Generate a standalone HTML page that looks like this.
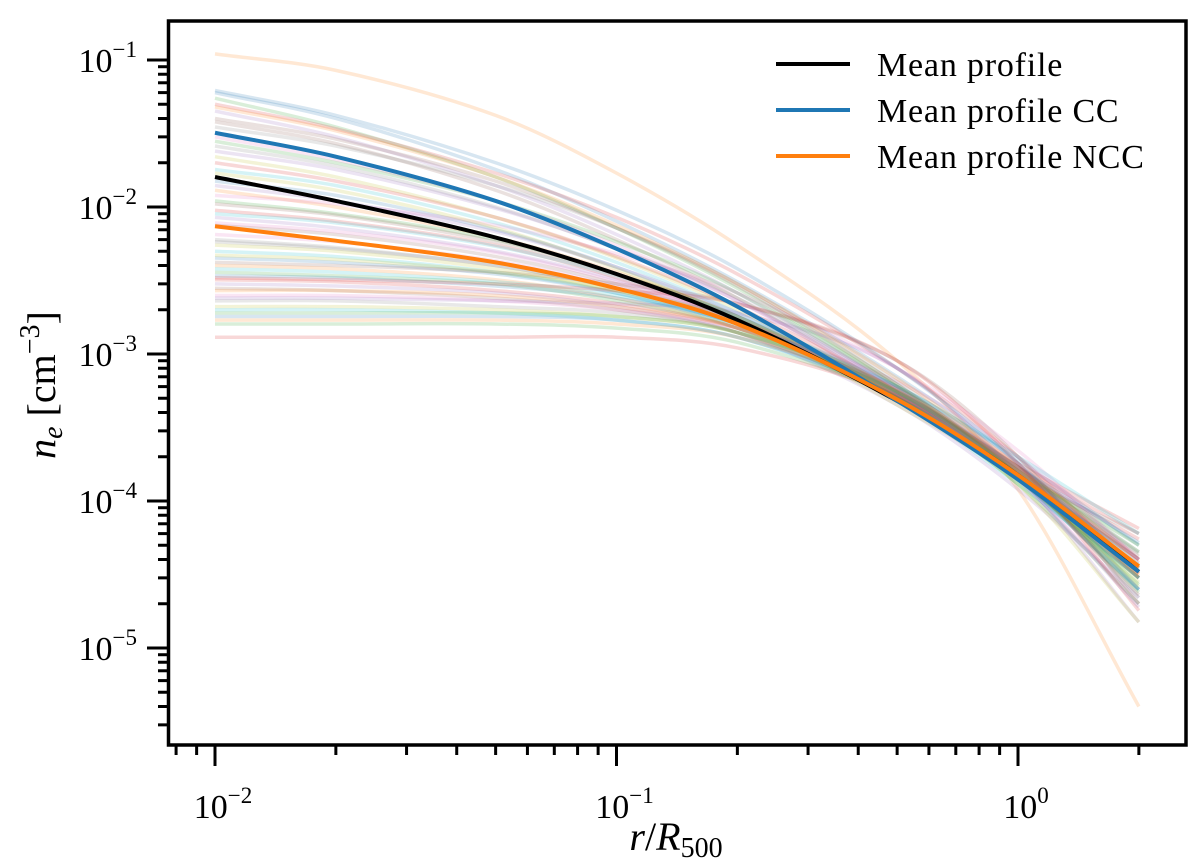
<!DOCTYPE html>
<html><head><meta charset="utf-8"><style>
body{margin:0;background:#fff}
svg{display:block}
text{font-family:"Liberation Serif",serif;fill:#000}
</style></head><body>
<svg id="chart" width="1200" height="867" viewBox="0 0 1200 867" xmlns="http://www.w3.org/2000/svg">
<g id="bg"></g>
<g id="means"></g>
<rect x="168.5" y="21" width="1017.5" height="724" fill="none" stroke="#000" stroke-width="3.5"/>
<g id="ticks"></g>
<g>
<line x1="776" y1="64" x2="850" y2="64" stroke="#000" stroke-width="4"/>
<text x="877" y="76" font-size="34" letter-spacing="0.8">Mean profile</text>
<line x1="776" y1="110" x2="850" y2="110" stroke="#1f77b4" stroke-width="4"/>
<text x="877" y="122" font-size="34" letter-spacing="0.8">Mean profile CC</text>
<line x1="776" y1="156" x2="850" y2="156" stroke="#ff7f0e" stroke-width="4"/>
<text x="877" y="168" font-size="34" letter-spacing="0.8">Mean profile NCC</text>
</g>
<text x="676" y="850" font-size="40" text-anchor="middle"><tspan font-style="italic">r</tspan>/<tspan font-style="italic">R</tspan><tspan font-size="28" dy="7">500</tspan></text>
<text transform="translate(55,385) rotate(-90)" font-size="40" text-anchor="middle"><tspan font-style="italic">n</tspan><tspan font-size="28" font-style="italic" dy="7">e</tspan><tspan dy="-7"> [cm</tspan><tspan font-size="28" dy="-16">−3</tspan><tspan dy="16">]</tspan></text>
</svg>
<script>
const rPoints=[0.01,0.02,0.05,0.1,0.2,0.5,1,2];
const meanAll=[0.016,0.011,0.0062,0.0035,0.0017,0.00048,0.00015,3.3e-5];
const meanCC=[0.032,0.022,0.011,0.0052,0.0021,0.00048,0.00014,3.3e-5];
const meanNCC=[0.0074,0.0059,0.0042,0.0028,0.0016,0.00049,0.00015,3.6e-5];
const indiv=[
[0.06,0.04,0.018,0.008,0.0031,0.0007,0.00018,3e-5],
[0.11,0.085,0.042,0.017,0.0055,0.0009,0.00012,4e-6],
[0.055,0.035,0.016,0.0072,0.0028,0.00062,0.00016,3.5e-5],
[0.05,0.034,0.017,0.0085,0.0035,0.0008,0.0002,3.2e-5],
[0.045,0.03,0.014,0.0065,0.0026,0.00058,0.00015,2.5e-5],
[0.038,0.027,0.013,0.006,0.0024,0.00055,0.00017,4e-5],
[0.03,0.021,0.011,0.0055,0.0023,0.00055,0.00014,2e-5],
[0.026,0.019,0.01,0.0052,0.0024,0.0006,0.00017,4.5e-5],
[0.022,0.016,0.0085,0.0045,0.002,0.00052,0.00015,3e-5],
[0.018,0.014,0.0078,0.0042,0.0019,0.00055,0.00016,5e-5],
[0.015,0.012,0.007,0.0039,0.0018,0.0005,0.00014,2.5e-5],
[0.013,0.01,0.0062,0.0036,0.0018,0.00053,0.00017,4e-5],
[0.011,0.009,0.006,0.0035,0.0018,0.0005,0.00013,2e-5],
[0.0095,0.008,0.0055,0.0033,0.0017,0.00052,0.00016,5.5e-5],
[0.0085,0.0072,0.005,0.0032,0.0017,0.00055,0.00017,3.5e-5],
[0.0075,0.0065,0.0046,0.003,0.0016,0.0005,0.00014,3e-5],
[0.0065,0.0058,0.0043,0.0029,0.0017,0.00052,0.00016,4e-5],
[0.006,0.0053,0.004,0.0028,0.0016,0.00051,0.00015,6e-5],
[0.0055,0.005,0.0038,0.0027,0.0016,0.0005,0.00014,2.8e-5],
[0.005,0.0046,0.0036,0.0026,0.0015,0.00048,0.00013,3e-5],
[0.0045,0.0042,0.0035,0.0026,0.0016,0.0006,0.00019,5e-5],
[0.004,0.0038,0.0032,0.0024,0.0015,0.00052,0.00015,4e-5],
[0.0036,0.0034,0.003,0.0023,0.0015,0.00053,0.00016,4.5e-5],
[0.0032,0.0031,0.0027,0.0022,0.0015,0.00058,0.00018,6.5e-5],
[0.003,0.0029,0.0026,0.0021,0.0014,0.00045,0.00012,2.2e-5],
[0.0028,0.0027,0.0024,0.002,0.0014,0.0005,0.00014,3.5e-5],
[0.0025,0.0025,0.0023,0.002,0.0015,0.00065,0.0002,4e-5],
[0.0023,0.0023,0.0021,0.0019,0.0014,0.0005,0.00015,3e-5],
[0.0021,0.0021,0.002,0.0018,0.0014,0.00055,0.00016,5e-5],
[0.002,0.002,0.0019,0.0017,0.0013,0.0005,0.00014,2.5e-5],
[0.0018,0.0018,0.0018,0.0017,0.0013,0.00052,0.00015,4e-5],
[0.0017,0.0017,0.0017,0.0016,0.0013,0.00055,0.00016,3.5e-5],
[0.0016,0.0016,0.0016,0.0015,0.0012,0.0005,0.00014,3e-5],
[0.0013,0.0013,0.0013,0.0013,0.0011,0.00052,0.00017,6e-5],
[0.0024,0.0024,0.0023,0.0022,0.0019,0.0008,0.00015,1.5e-5],
[0.0042,0.004,0.0036,0.003,0.0022,0.0009,0.0002,2e-5],
[0.012,0.0105,0.0075,0.0048,0.0026,0.0008,0.00022,4e-5],
[0.035,0.026,0.014,0.0072,0.003,0.00065,0.00016,2.2e-5],
[0.017,0.013,0.0072,0.0038,0.0017,0.00045,0.00013,1.5e-5],
[0.009,0.0078,0.0054,0.0034,0.0018,0.0006,0.0002,6e-5],
[0.062,0.042,0.02,0.0095,0.0038,0.0008,0.00018,2.5e-5],
[0.048,0.033,0.016,0.0075,0.003,0.00068,0.00017,3.2e-5],
[0.028,0.02,0.011,0.0058,0.0026,0.0006,0.00015,2.4e-5],
[0.02,0.015,0.0085,0.0046,0.0021,0.00056,0.00016,3.8e-5],
[0.014,0.011,0.0068,0.0039,0.0019,0.00054,0.00015,3e-5],
[0.0105,0.0088,0.0058,0.0035,0.0018,0.00053,0.00015,4.2e-5],
[0.0078,0.0068,0.0049,0.0031,0.0017,0.00054,0.00016,3.3e-5],
[0.0058,0.0052,0.004,0.0028,0.0017,0.00056,0.00016,4.4e-5],
[0.0047,0.0044,0.0036,0.0027,0.0017,0.00056,0.00015,2.6e-5],
[0.0038,0.0036,0.0031,0.0025,0.0016,0.00055,0.00016,3.7e-5],
[0.0034,0.0033,0.0029,0.0024,0.0016,0.00056,0.00017,5.2e-5],
[0.0027,0.0027,0.0025,0.0021,0.0015,0.00056,0.00016,3.1e-5],
[0.0019,0.0019,0.0019,0.0018,0.0014,0.00055,0.00015,2.7e-5],
[0.0033,0.0032,0.003,0.0027,0.0022,0.0009,0.00018,1.8e-5],
[0.024,0.018,0.0098,0.0052,0.0023,0.00058,0.00014,1.9e-5],
[0.04,0.029,0.015,0.0072,0.0029,0.00062,0.00015,2.3e-5]
];
const xTickLabels=["10","10","10"];
const xTickExp=["−2","−1","0"];
const yTickExp=["−1","−2","−3","−4","−5"];
const colors=["#1f77b4","#ff7f0e","#2ca02c","#d62728","#9467bd","#8c564b","#e377c2","#7f7f7f","#bcbd22","#17becf"];
const X0=215,XD=401.5,Y0=60,YD=147;
const xs=r=>X0+(Math.log10(r)+2)*XD;
const ys=v=>Y0+(-1-Math.log10(v))*YD;
const NS="http://www.w3.org/2000/svg";
function pathFor(vals){
  const p=rPoints.map((r,i)=>[xs(r),ys(vals[i])]);
  const n=p.length;
  const m=p.map((pt,i)=>{
    const a=p[Math.max(i-1,0)],b=p[Math.min(i+1,n-1)];
    return (b[1]-a[1])/(b[0]-a[0]);
  });
  let d=`M${p[0][0]},${p[0][1]}`;
  for(let i=0;i<n-1;i++){
    const dx=(p[i+1][0]-p[i][0])/3;
    d+=` C${p[i][0]+dx},${p[i][1]+m[i]*dx} ${p[i+1][0]-dx},${p[i+1][1]-m[i+1]*dx} ${p[i+1][0]},${p[i+1][1]}`;
  }
  return d;
}
const bg=document.getElementById('bg');
indiv.forEach((v,i)=>{
  const el=document.createElementNS(NS,'path');
  el.setAttribute('d',pathFor(v));
  el.setAttribute('fill','none');
  el.setAttribute('stroke',colors[i%10]);
  el.setAttribute('stroke-width','3.5');
  el.setAttribute('stroke-opacity','0.18');
  
  
  bg.appendChild(el);
});
const means=document.getElementById('means');
[[meanAll,'#000','mean-profile-line'],[meanCC,'#1f77b4','mean-profile-cc-line'],[meanNCC,'#ff7f0e','mean-profile-ncc-line']].forEach(mm=>{
  const el=document.createElementNS(NS,'path');
  el.setAttribute('d',pathFor(mm[0]));
  el.setAttribute('fill','none');
  el.setAttribute('stroke',mm[1]);
  el.setAttribute('stroke-width','4');
  
  
  means.appendChild(el);
});
const tk=document.getElementById('ticks');
function ln(x1,y1,x2,y2,name){
  const el=document.createElementNS(NS,'line');
  el.setAttribute('x1',x1);el.setAttribute('y1',y1);el.setAttribute('x2',x2);el.setAttribute('y2',y2);
  el.setAttribute('stroke','#000');el.setAttribute('stroke-width','3');
  
  
  tk.appendChild(el);
}
function lab(x,y,base,exp,anchor,name){
  const el=document.createElementNS(NS,'text');
  el.setAttribute('x',x);el.setAttribute('y',y);el.setAttribute('font-size','34');el.setAttribute('text-anchor',anchor);
  el.innerHTML=`${base}<tspan font-size="23" dy="-15">${exp}</tspan>`;
  
  
  tk.appendChild(el);
}
for(let e=-3;e<=0;e++){
  for(let k=1;k<10;k++){
    const x=xs(k*Math.pow(10,e));
    if(x<170||x>1185)continue;
    ln(x,745,x,k===1?766:755,k===1?'x-major-tick':'x-minor-tick');
  }
}
xTickExp.forEach((ex,i)=>lab(xs(Math.pow(10,i-2))+8,818,xTickLabels[i],ex,'middle','x-tick-label'));
for(let e=-6;e<=-1;e++){
  for(let k=1;k<10;k++){
    const y=ys(k*Math.pow(10,e));
    if(y<22||y>744)continue;
    ln(168,y,k===1?147:158,y,k===1?'y-major-tick':'y-minor-tick');
  }
}
yTickExp.forEach((ex,i)=>lab(137,ys(Math.pow(10,-1-i))+12,'10',ex,'end','y-tick-label'));
</script>
</body></html>
